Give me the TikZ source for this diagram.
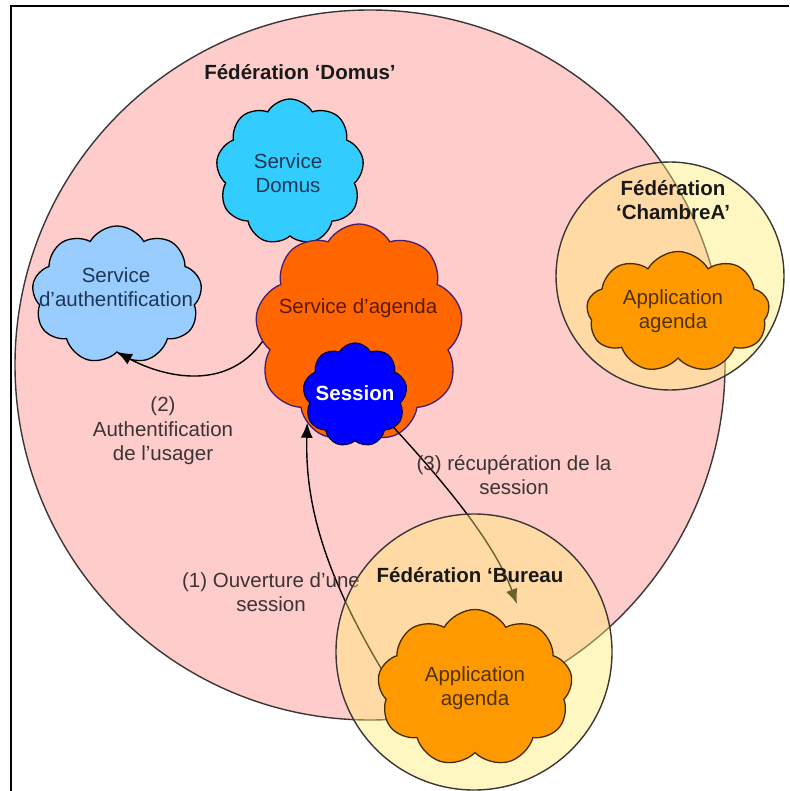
\documentclass[tikz,border=0pt]{standalone}
\usepackage{fontspec}
\setmainfont{Liberation Sans}
\usetikzlibrary{shapes.symbols,arrows.meta}

\definecolor{fedpink}{RGB}{255,204,204}
\definecolor{fedyellow}{RGB}{255,238,110}
\definecolor{edgegrey}{RGB}{60,55,55}
\definecolor{cyancloud}{RGB}{51,204,255}
\definecolor{bluecloud}{RGB}{153,204,255}
\definecolor{agendaorange}{RGB}{255,102,0}
\definecolor{agendaedge}{RGB}{70,30,110}
\definecolor{sessionblue}{RGB}{0,0,255}
\definecolor{sessionedge}{RGB}{0,0,90}
\definecolor{apporange}{RGB}{255,153,0}
\definecolor{appedge}{RGB}{70,45,10}
\definecolor{servicetext}{RGB}{30,55,85}
\definecolor{agendatext}{RGB}{90,25,0}
\definecolor{apptext}{RGB}{80,50,0}
\definecolor{labeltext}{RGB}{60,52,52}

\tikzset{
  fedcircle/.style={circle, draw=edgegrey, line width=1.4, inner sep=0, outer sep=0},
  smallfed/.style={fedcircle, fill=fedyellow, fill opacity=0.42},
  cloudbox/.style={cloud, cloud puffs=9, cloud puff arc=120, cloud ignores aspect,
    draw, line width=1.3, inner sep=0, outer sep=0},
  txt/.style={align=center, inner sep=0, font=\fontsize{20.5}{24.5}\selectfont},
  title/.style={txt, font=\fontsize{20.5}{24.5}\selectfont\bfseries, text=black!90},
  steplabel/.style={txt, text=labeltext},
  flow/.style={line width=1.4, black, -{Latex[length=15,width=12]}}
}

\begin{document}
\begin{tikzpicture}[x=1pt,y=-1pt]
\useasboundingbox (0,0) rectangle (789,791);
\fill[white] (0,0) rectangle (789,791);

% outer frame (left and top edges)
\draw[line width=2.6] (11,791) -- (11,6) -- (789,6);

% federation Domus
\node[fedcircle, fill=fedpink, minimum size=710] (domus) at (370,365) {};
\node[title] (domustitle) at (300,72) {Fédération ‘Domus’};

% services inside Domus
\node[cloudbox, fill=cyancloud, minimum width=148, minimum height=146] (svcdomus) at (290,172) {};
\node[txt, text=servicetext] (svcdomustxt) at (288,173) {Service\\Domus};

\node[cloudbox, fill=bluecloud, minimum width=170, minimum height=138] (auth) at (117,295) {};
\node[txt, text=servicetext] (authtxt) at (116,287) {Service\\d’authentification};

\node[cloudbox, fill=agendaorange, draw=agendaedge, minimum width=208, minimum height=218] (agenda) at (359,333) {};
\node[txt, text=agendatext] (agendatxt) at (358,308) {Service d’agenda};

\node[cloudbox, fill=sessionblue, draw=sessionedge, minimum width=104, minimum height=104] (session) at (355,395) {};
\node[txt, text=white, font=\fontsize{20.5}{24.5}\selectfont\bfseries] (sessiontxt) at (355,393) {Session};

% exchanges
\draw[flow] (agenda.185) .. controls +(-38,53) and +(42,23) .. (auth.south);
\node[steplabel] (lbl2) at (163,431) {(2)\\Authentification\\de l’usager};

\draw[flow] (session.-40) .. controls +(57,62) and +(-22,-59) .. (517,604) coordinate (tip3);
\node[steplabel] (lbl3) at (514,475) {(3) récupération de la\\session};

\coordinate (start1) at (390,683);
\draw[flow] (start1) .. controls +(-70,-113) and +(-2,75) .. (agenda.240);
\node[steplabel] (lbl1) at (271,592) {(1) Ouverture d’une\\session};

% federations ChambreA and Bureau
\node[smallfed, minimum size=228] (chambre) at (670,276) {};
\node[smallfed, minimum size=276] (bureau) at (474,652) {};

\node[title] (chambretitle) at (673,200) {Fédération\\‘ChambreA’};
\node[title] (bureautitle) at (470,575) {Fédération ‘Bureau};

\node[cloudbox, fill=apporange, draw=appedge, minimum width=183, minimum height=121] (capp) at (678,312) {};
\node[txt, text=apptext] (capptxt) at (673,311) {Application\\agenda};

\node[cloudbox, fill=apporange, draw=appedge, minimum width=195, minimum height=157] (bapp) at (475,688) {};
\node[txt, text=apptext] (bapptxt) at (475,688) {Application\\agenda};
\end{tikzpicture}
\end{document}
